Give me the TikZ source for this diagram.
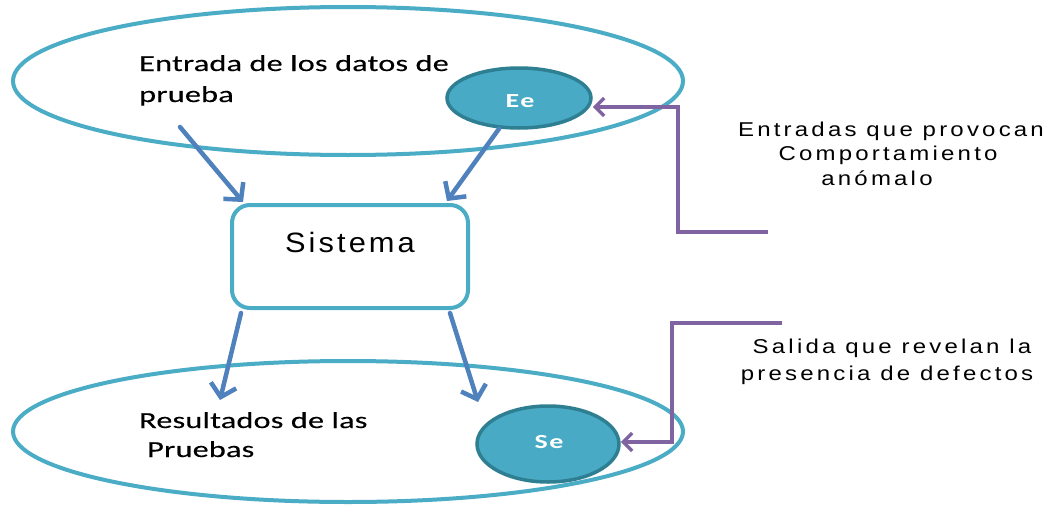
\documentclass[tikz,border=0pt]{standalone}
\usepackage{fontspec}
\setmainfont{Carlito}
\newfontfamily\arialA{Liberation Sans}[FakeStretch=1.2,LetterSpace=16]
\newfontfamily\arialB{Liberation Sans}[FakeStretch=1.1,LetterSpace=11]
\newfontfamily\calA{Carlito}[FakeStretch=1.4,LetterSpace=1,FakeBold=0.2]
\newfontfamily\calB{Carlito}[FakeStretch=1.4,LetterSpace=8,UprightFont=*-Bold]
\usetikzlibrary{arrows.meta,shapes.geometric,calc}
\definecolor{tealA}{HTML}{4BACC6}
\definecolor{tealD}{HTML}{2F7F92}
\definecolor{tealF}{HTML}{48AAC4}
\definecolor{blueA}{HTML}{4F81BD}
\definecolor{purpA}{HTML}{8064A2}
\tikzset{
  bigell/.style={ellipse, draw=tealA, line width=4pt, inner sep=0pt},
  smallell/.style={ellipse, draw=tealD, fill=tealF, line width=3.5pt, inner sep=0pt,
    minimum width=144pt, minimum height=60pt},
  sysbox/.style={rectangle, rounded corners=18pt, draw=tealA, line width=4pt,
    minimum width=236pt, minimum height=103pt, inner sep=0pt},
  lbl/.style={inner sep=0pt, anchor=base west, font=\calA\fontsize{23}{28}\selectfont},
  rlbl/.style={inner sep=0pt, anchor=base, font=\arialA\fontsize{20}{25}\selectfont},
  elbl/.style={inner sep=0pt, anchor=base, text=white, font=\calB\fontsize{20}{24}\selectfont},
  bluearrow/.style={draw=blueA, line width=4.5pt, line cap=round,
    -{Straight Barb[length=12pt,width=26pt,line width=4.5pt]}},
  purparrow/.style={draw=purpA, line width=3.5pt,
    -{Straight Barb[length=9pt,width=18pt,line width=3.5pt]}}
}
\begin{document}
\begin{tikzpicture}[x=1pt,y=-1pt]
\useasboundingbox (0,0) rectangle (1050,506);
\fill[white] (0,0) rectangle (1050,506);
% big ellipses
\node[bigell, minimum width=670pt, minimum height=148pt] (topell) at (348,81) {};
\node[bigell, minimum width=670pt, minimum height=141pt] (botell) at (348,431.5) {};
% system box
\node[sysbox] (sis) at (350,256.5) {};
\node[inner sep=0pt, anchor=base, font=\arialB\fontsize{28}{32}\selectfont] (sistxt) at (350,252) {Sistema};
% labels
\node[lbl] (in1) at (139,71) {Entrada de los datos de};
\node[lbl] (in2) at (139,102) {prueba};
\node[lbl] (out1) at (139,428) {Resultados de las};
\node[lbl] (out2) at (147,457) {Pruebas};
% right texts
\node[rlbl] (r1) at (891,136) {Entradas que provocan};
\node[rlbl] (r2) at (888,160) {Comportamiento};
\node[rlbl] (r3) at (877,185) {anómalo};
\node[rlbl] (s1) at (892,353) {Salida que revelan la};
\node[rlbl] (s2) at (887,380) {presencia de defectos};
% blue arrows
\coordinate (a1s) at (180,127);
\coordinate (a1e) at (243,202);
\coordinate (a3e) at (220,400);
\coordinate (a4e) at (478,402);
\draw[bluearrow] (a1s) -- (a1e);
% purple connectors
\coordinate (p1) at (768,232);
\coordinate (p2) at (678,107);
\coordinate (q1) at (782,323);
\coordinate (q2) at (672,442);
% small ellipses
\node[smallell] (Ee) at (519,98) {};
\node[elbl] (Eet) at (520,107) {Ee};
\node[smallell, minimum width=142pt, minimum height=76pt] (Se) at (548,444) {};
\node[elbl] (Set) at (549,448) {Se};
\draw[bluearrow] (Ee.237) -- ([xshift=-23pt,yshift=2pt]sis.north east);
\draw[bluearrow] ([xshift=11pt,yshift=-3pt]sis.south west) -- (a3e);
\draw[bluearrow] ([xshift=-20pt,yshift=-3pt]sis.south east) -- (a4e);
\draw[purparrow] (p1) -| (p2) -- (Ee.east |- p2);
\draw[purparrow] (q1) -| (q2) -- (Se.east |- q2);
\end{tikzpicture}
\end{document}
